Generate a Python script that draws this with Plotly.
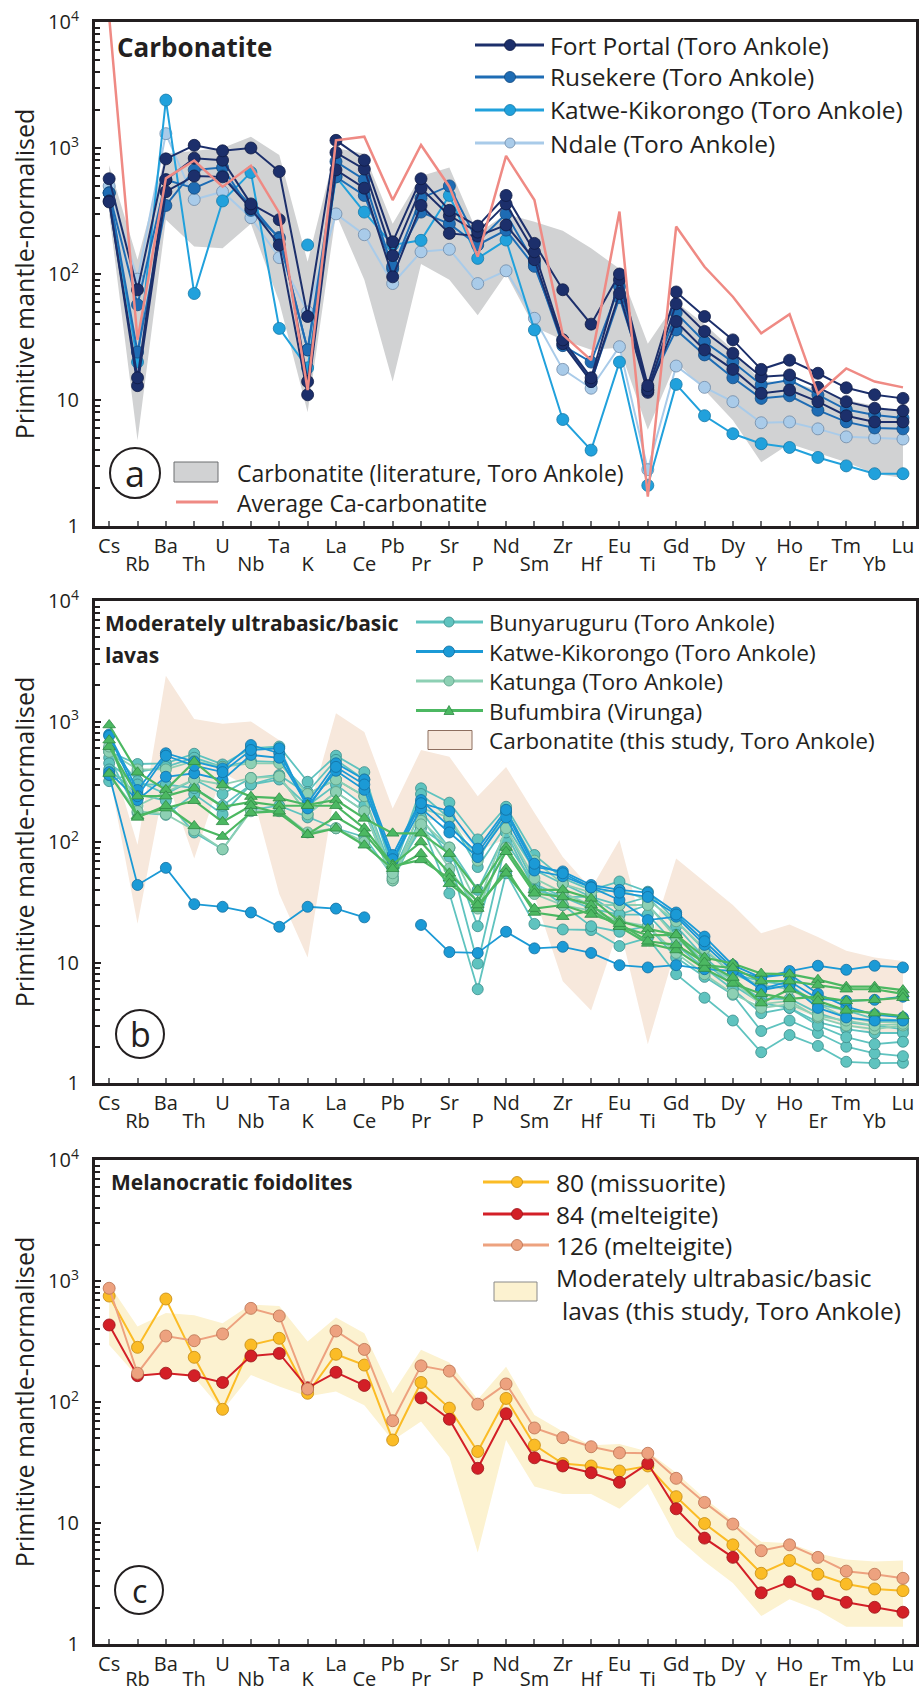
import plotly.graph_objects as go

# ---------------------------------------------------------------- data
ELEMENTS = ["Cs", "Rb", "Ba", "Th", "U", "Nb", "Ta", "K", "La", "Ce", "Pb", "Pr", "Sr", "P",
            "Nd", "Sm", "Zr", "Hf", "Eu", "Ti", "Gd", "Tb", "Dy", "Y", "Ho", "Er", "Tm", "Yb", "Lu"]
Y_TICK_VALUES = [1, 10, 100, 1000, 10000]
Y_TICK_TEXT = ["1", "10", "10<sup>2</sup>", "10<sup>3</sup>", "10<sup>4</sup>"]

# (a) carbonatites
fort_portal_1 = [570, 75, 820, 1050, 950, 1000, 650, 46, 1150, 800, 180, 570, 320, 240, 420, 175, 75, 40, 100, 13, 72, 46, 30, 17.5, 20.7, 16.3, 12.5, 11, 10.3]
fort_portal_2 = [373, 15, 560, 830, 800, 360, 270, 14, 920, 680, 140, 480, 290, 215, 360, 150, 30, 15, 90, 12, 58, 35, 23.5, 15.3, 15.8, 12.6, 9.7, 8.6, 8.2]
fort_portal_3 = [380, 13, 450, 600, 590, 330, 170, 11, 670, 480, 95, 350, 210, 200, 245, 130, 28, 14, 70, 11.5, 42, 25, 17.5, 11.3, 12, 9.7, 7.5, 6.7, 6.7]
rusekere_1 = [440, 24, 350, 670, 700, 320, 195, 25, 780, 560, 110, 400, 500, 180, 300, 122, 27, 20, 80, 12, 49, 29, 20, 13.2, 14.4, 11, 8.4, 7.6, 7.2]
rusekere_2 = [440, 57, 560, 480, 600, 350, 190, 25, 590, 420, 115, 310, 250, 170, 223, 115, 30, 14, 65, 12.5, 36, 22.8, 15, 10.3, 10.8, 8.3, 6.7, 6.0, 5.9]
katwe_a_1 = [440, 20, 2400, 70, 380, 640, 37, 18, 590, 310, 170, 185, 420, 133, 186, 36, 7, 4, 20, 2.1, 13.3, 7.5, 5.4, 4.5, 4.2, 3.5, 3.0, 2.6, 2.6]
katwe_a_2 = [None, None, None, None, None, None, None, 170, None, None, None, None, None, None, None,
             None, None, None, None, None, None, None, None, None, None, None, None, None, None]
ndale = [500, 91, 1300, 390, 450, 280, 135, 50, 300, 205, 84, 150, 157, 84, 106, 44.5, 17.5, 12.4, 26.5, 2.8, 18.6, 12.6, 9.7, 6.6, 6.7, 5.9, 5.1, 5.0, 4.9]
avg_ca_carbonatite = [11000, 30, 574, 795, 493, 723, 305, 12, 1150, 1230, 386, 1057, 493, 137, 865, 386, 33, 20.7, 313, 1.71, 238, 114, 66, 33.8, 48, 11.2, 17.8, 14, 12.6]
lit_carb_upper = [730, 130, 900, 950, 1000, 1230, 880, 125, 1000, 900, 250, 600, 700, 210, 300, 260, 220, 160, 110, 28, 60, 40, 25, 14, 14, 12, 10, 9, 8]
lit_carb_lower = [300, 4.8, 270, 165, 160, 250, 60, 8, 300, 90, 14, 120, 90, 47, 100, 38, 30, 25, 26, 5.8, 20, 12, 6.9, 3.2, 4.5, 3.8, 3.2, 2.6, 2.4]

# (b) moderately ultrabasic/basic lavas
bunyaruguru_1 = [560, 444, 450, 540, 440, 600, 620, 316, 520, 380, 60, 279, 212, 105, 196, 78, 50, 40, 47, 38.7, 22, 12.7, 8.0, 7.0, 6.5, 4.5, 4.0, 3.4, 3.3]
bunyaruguru_2 = [320, 380, 420, 500, 420, 470, 460, 260, 480, 330, 57, 250, 157, 62, 138, 58.6, 45, 35, 30, 35, 20, 11, 7.0, 5.0, 5.0, 3.8, 3.2, 3.0, 2.8]
bunyaruguru_3 = [600, 320, 250, 330, 250, 340, 360, 250, 330, 240, 55, 180, 89, 20, 130, 45, 35, 35, 25, 30, 17, 10, 6.5, 4.6, 4.2, 3.2, 2.8, 2.6, 2.6]
bunyaruguru_4 = [500, 175, 168, 250, 170, 300, 350, 170, 260, 180, 48, 143, 37.5, 6.0, 55, 20.9, 18.8, 18.6, 13.7, 16, 8.0, 5.1, 3.3, 1.8, 2.5, 2.03, 1.5, 1.46, 1.47]
bunyaruguru_5 = [450, 300, 300, 280, 200, 300, 330, 200, 300, 200, 50, 160, 75.5, 9.8, 100, 45, 30, 20, 18, 20, 11, 7.6, 5.4, 2.7, 3.3, 2.6, 2.0, 1.76, 1.67]
bunyaruguru_6 = [400, 250, 220, 120, 87, 185, 200, 160, 130, 110, 52, 130, 90, 40, 120, 40, 35, 28, 25, 25, 14, 9.0, 6.0, 3.8, 4.2, 3.0, 2.4, 2.1, 2.2]
katunga_1 = [560, 400, 400, 470, 420, 450, 450, 250, 330, 240, 48, 191, 160, 70, 180, 70, 45, 38, 40, 33, 22, 13, 8.0, 6.5, 6.0, 4.5, 3.5, 3.2, 3.2]
katunga_2 = [620, 200, 260, 330, 300, 340, 350, 170, 260, 180, 50, 150, 90, 30, 130, 50, 38, 30, 30, 30, 16, 10, 7.0, 4.5, 4.8, 3.5, 3.0, 2.8, 3.0]
katunga_3 = [360, 180, 170, 125, 87, 180, 180, 120, 130, 100, 55, 140, 60, 28, 90, 37, 30, 27, 22, 20, 12, 8.0, 5.5, 4.2, 4.5, 3.6, 3.3, 3.0, 3.1]
katwe_b_1 = [780, 270, 545, 464, 408, 638, 545, 210, 450, 330, 78, 223, 134, 81, 175, 62, 57, 44, 40, 38, 26, 16.4, 9.5, 7.5, 8.0, 5.5, 4.3, 3.7, 3.5]
katwe_b_2 = [380, 223, 348, 372, 327, 528, 500, 200, 390, 271, 70, 190, 120, 75, 160, 58, 52, 42, 33, 22.5, 24, 14, 8.5, 6.0, 7.0, 5.0, 4.8, 4.9, 5.2]
katwe_b_3 = [760, 240, 520, 430, 380, 580, 600, 190, 420, 300, 72, 210, 180, 88, 185, 66, 55, 42, 38, 35, 25, 15, 9.0, 5.9, 6.5, 4.2, 3.5, 3.3, 3.3]
katwe_b_4 = [360, 44, 61, 30.5, 29, 26, 19.8, 29, 28, 23.7, None, 20.5, 12.2, 12, 18, 13.1, 13.5, 12, 9.5, 9.1, 9.5, 8.8, 8.5, 7.5, 8.5, 9.4, 8.7, 9.4, 9.1]
bufumbira_1 = [935, 379, 271, 464, 297, 238, 231, 203, 223, 157, 118, 118, 80, 40, 90, 40, 40, 34, 22, 19, 17, 11, 9.8, 8.1, 8.0, 7.2, 6.3, 6.3, 5.9]
bufumbira_2 = [618, 240, 240, 279, 196, 215, 200, 200, 200, 130, 65, 100, 55, 32, 83, 37.5, 35, 30, 20, 16.9, 16.9, 9.5, 9.0, 7.0, 7.0, 6.5, 6.0, 6.0, 5.5]
bufumbira_3 = [370, 165, 191, 220, 147, 200, 173, 116, 162, 118, 63, 71, 50, 28, 60, 26, 24, 27, 19.8, 14.4, 12.7, 8.9, 6.7, 5.5, 5.0, 5.2, 4.8, 4.9, 5.1]
bufumbira_4 = [700, 160, 200, 136, 111, 175, 180, 115, 130, 94, 60, 80, 45, 30, 55, 28, 30, 25, 21, 15, 14, 10, 7.5, 4.6, 6.0, 4.8, 4.0, 3.8, 3.6]
carb_study_upper = [580, 95, 2400, 1050, 960, 1000, 700, 170, 1170, 820, 190, 580, 510, 240, 420, 175, 75, 41, 104, 13, 73, 47, 30, 17.5, 20.7, 16.3, 12.5, 11, 10.3]
carb_study_lower = [370, 21, 350, 73, 375, 280, 37, 11, 300, 205, 84, 150, 155, 84, 106, 36, 7, 4, 20, 2.1, 13.3, 7.5, 5.4, 4.5, 4.2, 3.5, 3.0, 2.6, 2.6]

# (c) melanocratic foidolites
s80_missourite = [751, 283, 710, 234, 87, 296, 336, 118, 248, 202, 48.5, 145, 89, 39, 107, 44, 31, 29.6, 26.9, 29.6, 16.5, 9.9, 6.6, 3.84, 4.9, 3.77, 3.13, 2.85, 2.76]
s84_melteigite = [433, 165, 173, 165, 145, 240, 252, 131, 176, 137, None, 108, 72, 28.3, 80, 34.6, 29.6, 26, 21.7, 31, 13.1, 7.5, 5.2, 2.65, 3.27, 2.59, 2.21, 2.01, 1.83]
s126_melteigite = [871, 173, 351, 321, 365, 594, 514, 128, 386, 272, 70, 199, 180, 96, 141, 61, 50.7, 42.7, 38, 37.7, 23.4, 14.8, 9.8, 5.9, 6.6, 5.2, 4.0, 3.77, 3.49]
lavas_upper = [935, 420, 545, 520, 447, 638, 620, 316, 500, 370, 118, 270, 212, 105, 196, 78, 57, 44, 45, 39, 26, 16, 10.5, 7.0, 6.8, 5.6, 5.0, 4.8, 4.9]
lavas_lower = [296, 162, 170, 160, 85, 167, 134, 111, 122, 94, 48, 69, 35, 5.7, 48.5, 20, 17.4, 17.4, 13.1, 21, 7.7, 4.8, 3.2, 1.7, 2.34, 1.9, 1.39, 1.39, 1.39]

# ---------------------------------------------------------------- style
X = list(range(len(ELEMENTS)))
FONT = "Open Sans"
INK = "#231f20"
W, H = 919, 1692
ML, MR, MT, MB = 95, 3, 22, 48
PW, PH = W - ML - MR, H - MT - MB
LEG = 24.5


def px(x):
    return (x - ML) / PW


def py(y):
    return (H - MB - y) / PH


fig = go.Figure()


def add_band(xa, ya, upper, lower, color):
    fig.add_trace(go.Scatter(x=X + X[::-1], y=list(upper) + list(lower)[::-1], mode="lines",
                             fill="toself", fillcolor=color, line=dict(width=0, color=color),
                             hoverinfo="skip", showlegend=False, xaxis=xa, yaxis=ya))


def add_sample(xa, ya, vals, color, edge, size, symbol="circle", lw=2.0):
    fig.add_trace(go.Scatter(x=X, y=vals, mode="lines+markers", connectgaps=False,
                             line=dict(color=color, width=lw),
                             marker=dict(symbol=symbol, size=size, color=color, line=dict(color=edge, width=0.8)),
                             showlegend=False, xaxis=xa, yaxis=ya))


# colours
C_FP, E_FP = "#1c2f6b", "#101c45"
C_RU, E_RU = "#1e6cb4", "#134a80"
C_KA, E_KA = "#21a1dc", "#167aa8"
C_ND, E_ND = "#a9cbe9", "#6e8aa8"
C_PINK = "#ef8a84"
C_GRAY = "#d1d2d3"
C_BU, E_BU = "#5fc3bf", "#3a8d8a"
C_KB, E_KB = "#1b9ad6", "#136ea0"
C_KT, E_KT = "#8dd0b4", "#5a9f86"
C_BF, E_BF = "#4cb862", "#2f8a45"
C_PEACH = "#f7e8dc"
C_Y, E_Y = "#fbbc26", "#c48a12"
C_R, E_R = "#d31f27", "#9b1419"
C_S, E_S = "#eda27f", "#b9704f"
C_LAVA = "#fcf2d0"

# panel a
add_band("x", "y", lit_carb_upper, lit_carb_lower, C_GRAY)
add_sample("x", "y", ndale, C_ND, E_ND, 12)
add_sample("x", "y", katwe_a_1, C_KA, E_KA, 12)
add_sample("x", "y", katwe_a_2, C_KA, E_KA, 12)
add_sample("x", "y", rusekere_1, C_RU, E_RU, 12)
add_sample("x", "y", rusekere_2, C_RU, E_RU, 12)
add_sample("x", "y", fort_portal_3, C_FP, E_FP, 12)
add_sample("x", "y", fort_portal_2, C_FP, E_FP, 12)
add_sample("x", "y", fort_portal_1, C_FP, E_FP, 12)
fig.add_trace(go.Scatter(x=X, y=avg_ca_carbonatite, mode="lines", line=dict(color=C_PINK, width=2.5),
                         showlegend=False, xaxis="x", yaxis="y"))

# panel b
add_band("x2", "y2", carb_study_upper, carb_study_lower, C_PEACH)
for s in [bunyaruguru_1, bunyaruguru_2, bunyaruguru_3, bunyaruguru_4, bunyaruguru_5, bunyaruguru_6]:
    add_sample("x2", "y2", s, C_BU, E_BU, 11, lw=1.8)
for s in [katunga_1, katunga_2, katunga_3]:
    add_sample("x2", "y2", s, C_KT, E_KT, 11, lw=1.8)
for s in [katwe_b_1, katwe_b_2, katwe_b_3, katwe_b_4]:
    add_sample("x2", "y2", s, C_KB, E_KB, 11, lw=1.8)
for s in [bufumbira_1, bufumbira_2, bufumbira_3, bufumbira_4]:
    add_sample("x2", "y2", s, C_BF, E_BF, 11, symbol="triangle-up", lw=2.2)

# panel c
add_band("x3", "y3", lavas_upper, lavas_lower, C_LAVA)
add_sample("x3", "y3", s80_missourite, C_Y, E_Y, 12)
add_sample("x3", "y3", s84_melteigite, C_R, E_R, 12)
add_sample("x3", "y3", s126_melteigite, C_S, E_S, 12)

# helper traces so that the second-row label axes exist
for xa, ya in [("x4", "y"), ("x5", "y2"), ("x6", "y3")]:
    fig.add_trace(go.Scatter(x=X, y=[None] * len(X), mode="lines", showlegend=False,
                             hoverinfo="skip", xaxis=xa, yaxis=ya))

# ---------------------------------------------------------------- axes
XR = [-0.5, 28.46]
MINOR = [m * 10 ** d for d in range(4) for m in range(2, 10)]
tickfont = dict(family=FONT, size=20, color=INK)
row1_text = [e if i % 2 == 0 else "" for i, e in enumerate(ELEMENTS)]


def main_x(anchor):
    return dict(range=XR, tickmode="array", tickvals=X, ticktext=row1_text, ticks="inside",
                ticklen=5, tickwidth=1.5, tickcolor="#6d6e71", showline=True, linewidth=3, linecolor=INK,
                mirror=True, showgrid=False, zeroline=False, tickfont=tickfont, anchor=anchor,
                ticklabelstandoff=0)


def second_x(over, anchor, standoff):
    return dict(range=XR, overlaying=over, anchor=anchor, side="bottom", tickmode="array",
                tickvals=X[1::2], ticktext=ELEMENTS[1::2], ticks="", showline=False,
                showgrid=False, zeroline=False, tickfont=tickfont, ticklabelstandoff=standoff)


def main_y(domain, anchor):
    return dict(type="log", range=[0, 4], domain=domain, anchor=anchor, tickmode="array",
                tickvals=Y_TICK_VALUES, ticktext=Y_TICK_TEXT, ticks="inside", ticklen=6, tickwidth=2,
                tickcolor=INK, showline=True, linewidth=3, linecolor=INK, mirror=True, showgrid=False,
                zeroline=False, tickfont=tickfont, ticklabelstandoff=9,
                minor=dict(tickmode="array", tickvals=MINOR, ticks="inside", ticklen=5, tickwidth=1.5,
                           tickcolor=INK, showgrid=False),
                title=dict(text="Primitive mantle-normalised", font=dict(family=FONT, size=25, color=INK),
                           standoff=7))


DOM_A = [py(526), py(22)]
DOM_B = [py(1083), py(601)]
DOM_C = [py(1644), py(1160)]

# ---------------------------------------------------------------- legends, labels
shapes = []
annotations = []


def text(x, y, s, size=LEG, bold=False, anchor="left"):
    annotations.append(dict(xref="paper", yref="paper", x=px(x), y=py(y), text=("<b>%s</b>" % s) if bold else s,
                            showarrow=False, xanchor=anchor, yanchor="middle", align="left",
                            font=dict(family=FONT, size=size, color=INK)))


def leg_line(x0, x1, y, color, width=3):
    shapes.append(dict(type="line", xref="paper", yref="paper", x0=px(x0), x1=px(x1), y0=py(y), y1=py(y),
                       line=dict(color=color, width=width)))


def leg_marker(cx, cy, d, color, edge, symbol="circle"):
    base = dict(xref="paper", yref="paper", xsizemode="pixel", ysizemode="pixel", xanchor=px(cx),
                yanchor=py(cy), fillcolor=color, line=dict(color=edge, width=0.8))
    if symbol == "circle":
        base.update(type="circle", x0=-d / 2, x1=d / 2, y0=-d / 2, y1=d / 2)
    else:
        base.update(type="path", path="M %g,%g L %g,%g L 0,%g Z" % (-d / 2, -d * 0.4, d / 2, -d * 0.4, d * 0.5))
    shapes.append(base)


def leg_rect(x0, y0, x1, y1, color, edge):
    shapes.append(dict(type="rect", xref="paper", yref="paper", x0=px(x0), x1=px(x1), y0=py(y1), y1=py(y0),
                       fillcolor=color, line=dict(color=edge, width=1)))


def panel_label(cx, cy, r, letter, size):
    shapes.append(dict(type="circle", xref="paper", yref="paper", x0=px(cx - r), x1=px(cx + r),
                       y0=py(cy + r), y1=py(cy - r), line=dict(color=INK, width=2)))
    annotations.append(dict(xref="paper", yref="paper", x=px(cx), y=py(cy), text=letter, showarrow=False,
                            xanchor="center", yanchor="middle", font=dict(family=FONT, size=size, color=INK)))


# panel a
text(115, 47, "Carbonatite", size=26, bold=True)
for (yy, lab, c, e, d) in [(45, "Fort Portal (Toro Ankole)", C_FP, E_FP, 11),
                           (77, "Rusekere (Toro Ankole)", C_RU, E_RU, 11),
                           (110, "Katwe-Kikorongo (Toro Ankole)", C_KA, E_KA, 11),
                           (143, "Ndale (Toro Ankole)", C_ND, E_ND, 10)]:
    leg_line(475, 544, yy, c)
    leg_marker(510, yy, d, c, e)
    text(548, yy, lab)
panel_label(135, 473, 25, "a", 36)
leg_rect(174, 462, 218, 482, C_GRAY, "#6d6e71")
leg_line(176, 218, 502, C_PINK, 3)
# two-line legend text block (line pitch 1.3 x 23 px ~ 30 px)
text(235, 487.5, "Carbonatite (literature, Toro Ankole)<br>Average Ca-carbonatite", size=23)

# panel b
text(103, 623, "Moderately ultrabasic/basic", size=21, bold=True)
text(103, 655, "lavas", size=21, bold=True)
B_ROWS = [622, 651.5, 681, 710.5, 740]
for (yy, c, e, d, sym) in [(B_ROWS[0], C_BU, E_BU, 10, "circle"),
                           (B_ROWS[1], C_KB, E_KB, 11, "circle"),
                           (B_ROWS[2], C_KT, E_KT, 10, "circle"),
                           (B_ROWS[3], C_BF, E_BF, 10, "triangle")]:
    leg_line(416, 483, yy, c)
    leg_marker(449, yy, d, c, e, sym)
leg_rect(428, B_ROWS[4] - 9.5, 472, B_ROWS[4] + 9.5, C_PEACH, "#8d6e5f")
text(487, (B_ROWS[0] + B_ROWS[4]) / 2,
     "Bunyaruguru (Toro Ankole)<br>Katwe-Kikorongo (Toro Ankole)<br>Katunga (Toro Ankole)"
     "<br>Bufumbira (Virunga)<br>Carbonatite (this study, Toro Ankole)", size=22.7)
panel_label(140, 1034, 24, "b", 34)

# panel c
text(109, 1182, "Melanocratic foidolites", size=21, bold=True)
for (yy, lab, c, e) in [(1182, "80 (missuorite)", C_Y, E_Y),
                        (1214, "84 (melteigite)", C_R, E_R),
                        (1245, "126 (melteigite)", C_S, E_S)]:
    leg_line(483, 549, yy, c)
    leg_marker(517, yy, 11, c, e)
    text(554, yy, lab)
leg_rect(494, 1282, 537, 1301, C_LAVA, "#8a8a8a")
text(554, 1277, "Moderately ultrabasic/basic")
text(560, 1310, "lavas (this study, Toro Ankole)")
panel_label(139, 1590, 24, "c", 32)

fig.update_layout(
    width=W, height=H, margin=dict(l=ML, r=MR, t=MT, b=MB, autoexpand=False),
    paper_bgcolor="white", plot_bgcolor="white", showlegend=False,
    font=dict(family=FONT, color=INK),
    xaxis=main_x("y"), xaxis2=main_x("y2"), xaxis3=main_x("y3"),
    xaxis4=second_x("x", "y", 24), xaxis5=second_x("x2", "y2", 24), xaxis6=second_x("x3", "y3", 21),
    yaxis=main_y(DOM_A, "x"), yaxis2=main_y(DOM_B, "x2"), yaxis3=main_y(DOM_C, "x3"),
    shapes=shapes, annotations=annotations,
)

fig.write_html("out.html")
